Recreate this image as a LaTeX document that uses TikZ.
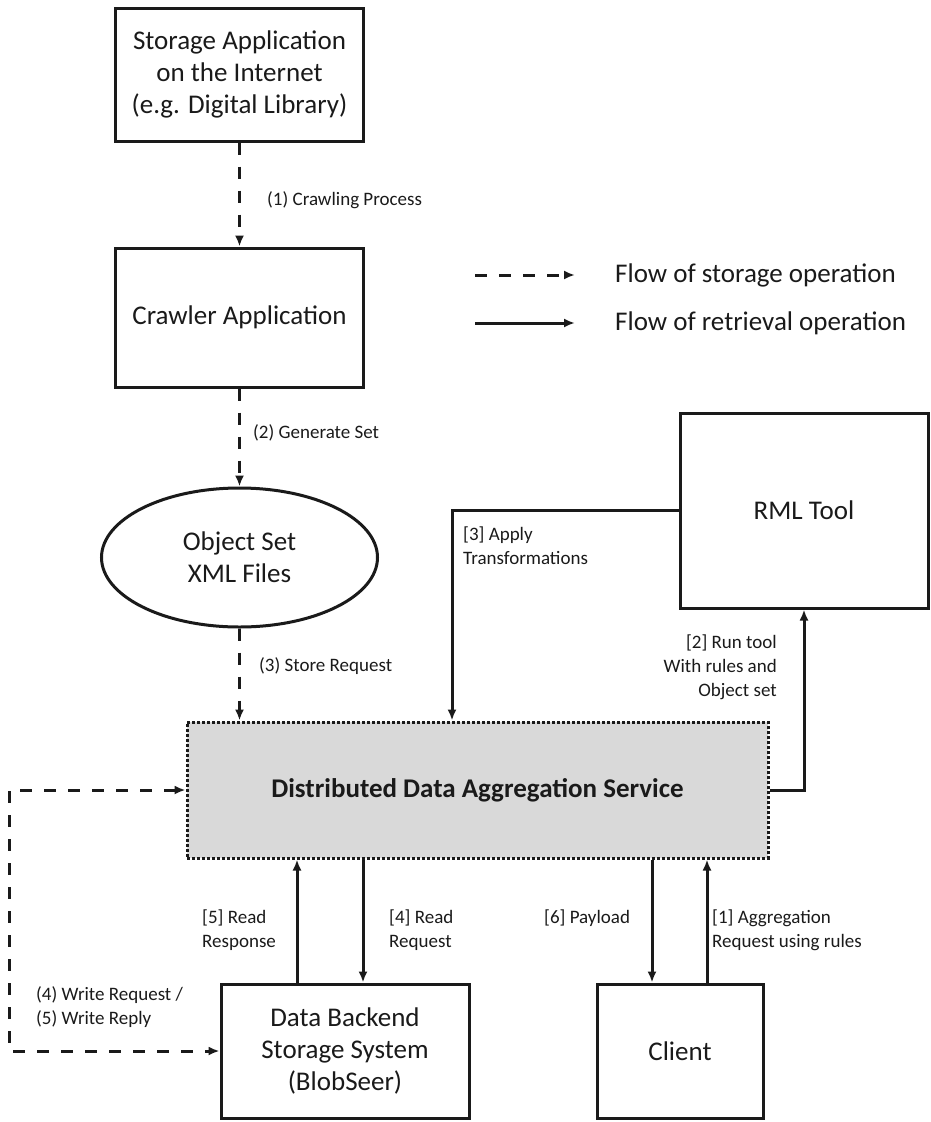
\documentclass[tikz,border=0pt]{standalone}
\usepackage{fontspec}
\setmainfont{Carlito}
\usetikzlibrary{arrows.meta,shapes.geometric,calc}
\definecolor{ddasgray}{HTML}{D9D9D9}
\definecolor{ink}{HTML}{1A1A1A}
\begin{document}
\begin{tikzpicture}[x=1pt,y=-1pt,
  box/.style={draw=ink,line width=3pt,rectangle,inner sep=0pt,align=center,font=\fontsize{27}{32}\selectfont,text=ink},
  lbl/.style={inner sep=0pt,font=\fontsize{19}{24}\selectfont,text=ink},
  leg/.style={inner sep=0pt,font=\fontsize{27}{32}\selectfont,text=ink,anchor=west},
  sol/.style={draw=ink,line width=3pt,-{Latex[length=11pt,width=9pt]}},
  dsh/.style={sol,dash pattern=on 12pt off 12pt}]
\useasboundingbox (0,0) rectangle (930,1122);
\node[box,minimum width=248,minimum height=133] (sa) at (239.5,74.5) {Storage Application\\on the Internet\\(e.g. Digital Library)};
\node[box,minimum width=248,minimum height=139] (cr) at (239.5,317.5) {Crawler Application};
\node[box,ellipse,minimum width=276,minimum height=139] (os) at (239.5,557.5) {Object Set\\XML Files};
\node[box,minimum width=581,minimum height=136,fill=ddasgray,dash pattern=on 3pt off 2pt,font=\fontsize{27}{32}\selectfont\bfseries] (ddas) at (477.5,790) {Distributed Data Aggregation Service};
\node[box,minimum width=248,minimum height=195] (rml) at (804,510.5) {RML Tool};
\node[box,minimum width=248,minimum height=134] (db) at (345,1051) {Data Backend\\Storage System\\(BlobSeer)};
\node[box,minimum width=166,minimum height=134] (cl) at (680,1051) {Client};
\coordinate (lx) at (9,0);
% storage flow
\draw[dsh] (sa) -- (cr);
\draw[dsh] (cr) -- (os);
\draw[dsh] (os.south) -- (os.south |- ddas.north);
\draw[dsh,{Latex[length=11pt,width=9pt]}-{Latex[length=11pt,width=9pt]}] (ddas.west) -- (ddas.west -| lx) -- (db.west -| lx) -- (db.west);
% retrieval flow
\draw[sol] (rml.west) -| ([xshift=-25.5pt]ddas.north);
\draw[sol] (ddas.east) -| (rml.south);
\draw[sol] ([xshift=-48pt]db.north) -- ([xshift=-48pt]db.north |- ddas.south);
\draw[sol] ([xshift=18pt]db.north |- ddas.south) -- ([xshift=18pt]db.north);
\draw[sol] ([xshift=-28pt]cl.north |- ddas.south) -- ([xshift=-28pt]cl.north);
\draw[sol] ([xshift=27pt]cl.north) -- ([xshift=27pt]cl.north |- ddas.south);
% labels
\node[lbl,anchor=west] (l1) at (267,200) {(1) Crawling Process};
\node[lbl,anchor=west] (l2) at (253,433) {(2) Generate Set};
\node[lbl,anchor=west] (l3) at (259,666) {(3) Store Request};
\node[lbl,anchor=west,align=left] (la) at (463,545.5) {[3] Apply\\Transformations};
\node[lbl,anchor=east,align=right] (lr) at (777,667) {[2] Run tool\\With rules and\\Object set};
\node[lbl,anchor=west,align=left] (l5) at (202,930) {[5] Read\\Response};
\node[lbl,anchor=west,align=left] (l4) at (389,930) {[4] Read\\Request};
\node[lbl,anchor=west] (l6) at (544,918) {[6] Payload};
\node[lbl,anchor=west,align=left] (l1r) at (712,930) {[1] Aggregation\\Request using rules};
\node[lbl,anchor=west,align=left] (lw) at (36,1007.5) {(4) Write Request /\\(5) Write Reply};
% legend
\coordinate (g1a) at (475,275); \coordinate (g1b) at (575,275);
\coordinate (g2a) at (475,323); \coordinate (g2b) at (575,323);
\draw[dsh] (g1a) -- (g1b);
\draw[sol] (g2a) -- (g2b);
\node[leg] (t1) at (615,275) {Flow of storage operation};
\node[leg] (t2) at (615,323) {Flow of retrieval operation};
\end{tikzpicture}
\end{document}
